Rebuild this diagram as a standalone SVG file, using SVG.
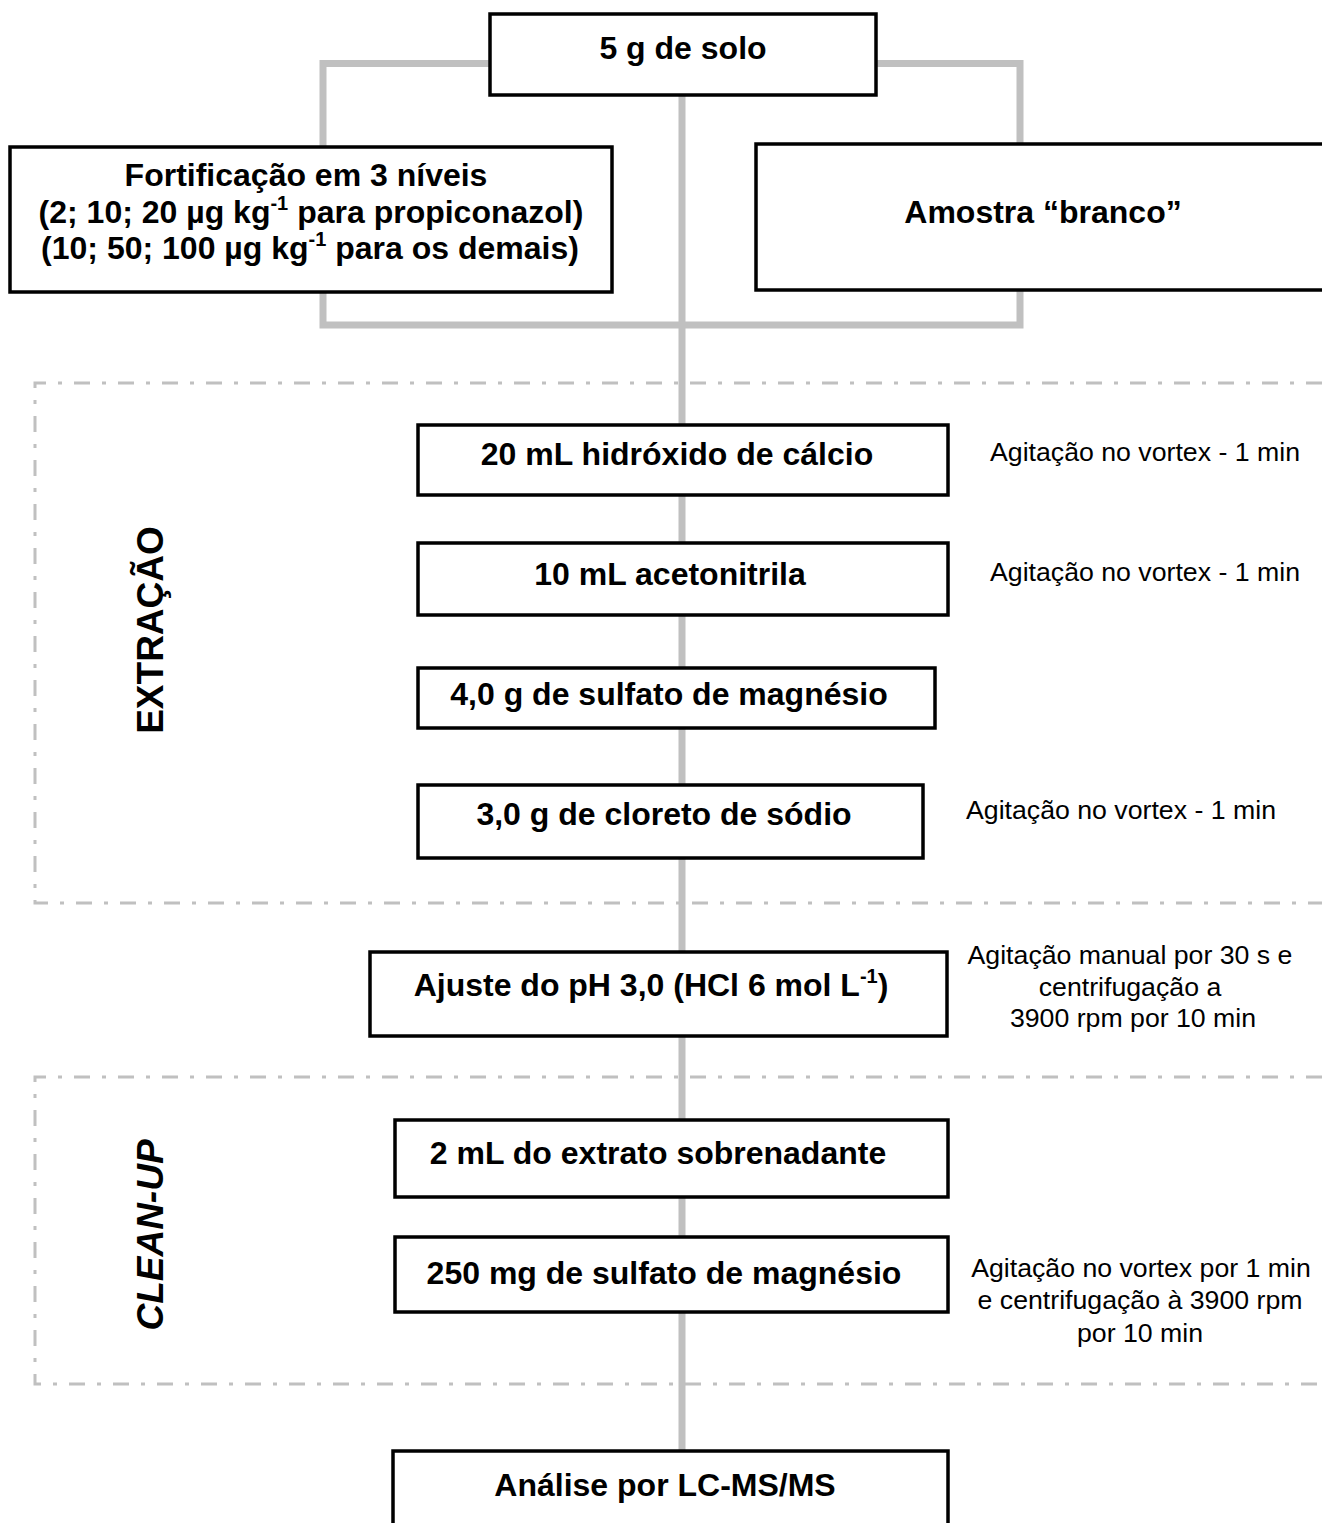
<svg xmlns="http://www.w3.org/2000/svg" width="1322" height="1523" viewBox="0 0 1322 1523">
<style>
.box{fill:#fff;stroke:#000;stroke-width:3.5}
.conn{fill:none;stroke:#c0c0c0;stroke-width:7}
.dash{fill:none;stroke:#c0c0c0;stroke-width:3;stroke-dasharray:16 12 4 12}
.b{font-family:"Liberation Sans",Arial,sans-serif;font-weight:bold;font-size:32px;fill:#000;text-anchor:middle}
.r{font-family:"Liberation Sans",Arial,sans-serif;font-size:26.7px;fill:#000;text-anchor:middle}
.lab{font-family:"Liberation Sans",Arial,sans-serif;font-weight:bold;font-size:37px;fill:#000;text-anchor:middle}
</style>
<rect width="1322" height="1523" fill="#fff"/>
<g id="regions">
<path class="dash" d="M1322,383 H35 V903 H1322"/>
<path class="dash" d="M1322,1077 H35 V1384 H1322"/>
<text class="lab" transform="translate(163,630) rotate(-90)">EXTRAÇÃO</text>
<text class="lab" font-style="italic" font-size="38.5px" transform="translate(163,1235) rotate(-90)">CLEAN-UP</text>
</g>
<g id="connectors">
<path class="conn" d="M323,150 V63.5 H1020 V150"/>
<path class="conn" d="M323,288 V325 H1020 V288"/>
<path class="conn" d="M682,90 V1455"/>
</g>
<g id="n-solo">
<rect class="box" x="490" y="14" width="386" height="81"/>
<text class="b" x="683" y="59">5 g de solo</text>
</g>
<g id="n-fortificacao">
<rect class="box" x="10" y="147" width="602" height="145"/>
<text class="b" x="306" y="186">Fortificação em 3 níveis</text>
<text class="b" x="311" y="223">(2; 10; 20 µg kg<tspan dy="-13" font-size="20">-1</tspan><tspan dy="13"> para propiconazol)</tspan></text>
<text class="b" x="310" y="259">(10; 50; 100 µg kg<tspan dy="-13" font-size="20">-1</tspan><tspan dy="13"> para os demais)</tspan></text>
</g>
<g id="n-branco">
<rect class="box" x="756" y="144" width="580" height="146"/>
<text class="b" x="1043" y="223">Amostra “branco”</text>
</g>
<g id="n-hidroxido">
<rect class="box" x="418" y="425" width="530" height="70"/>
<text class="b" x="677" y="465">20 mL hidróxido de cálcio</text>
<text class="r" x="1145" y="461">Agitação no vortex - 1 min</text>
</g>
<g id="n-acetonitrila">
<rect class="box" x="418" y="543" width="530" height="72"/>
<text class="b" x="670" y="585">10 mL acetonitrila</text>
<text class="r" x="1145" y="581">Agitação no vortex - 1 min</text>
</g>
<g id="n-sulfato">
<rect class="box" x="418" y="668" width="517" height="60"/>
<text class="b" x="669" y="705">4,0 g de sulfato de magnésio</text>
</g>
<g id="n-cloreto">
<rect class="box" x="418" y="785" width="505" height="73"/>
<text class="b" x="664" y="825">3,0 g de cloreto de sódio</text>
<text class="r" x="1121" y="819">Agitação no vortex - 1 min</text>
</g>
<g id="n-ph">
<rect class="box" x="370" y="952" width="577" height="84"/>
<text class="b" x="651" y="996">Ajuste do pH 3,0 (HCl 6 mol L<tspan dy="-13" font-size="20">-1</tspan><tspan dy="13">)</tspan></text>
<text class="r" x="1130" y="964">Agitação manual por 30 s e</text>
<text class="r" x="1130" y="996">centrifugação a</text>
<text class="r" x="1133" y="1027">3900 rpm por 10 min</text>
</g>
<g id="n-extrato">
<rect class="box" x="395" y="1120" width="553" height="77"/>
<text class="b" x="658" y="1164">2 mL do extrato sobrenadante</text>
</g>
<g id="n-sulfato250">
<rect class="box" x="395" y="1237" width="553" height="75"/>
<text class="b" x="664" y="1284">250 mg de sulfato de magnésio</text>
<text class="r" x="1141" y="1277">Agitação no vortex por 1 min</text>
<text class="r" x="1140" y="1309">e centrifugação à 3900 rpm</text>
<text class="r" x="1140" y="1342">por 10 min</text>
</g>
<g id="n-analise">
<rect class="box" x="393" y="1451" width="555" height="90"/>
<text class="b" x="665" y="1496">Análise por LC-MS/MS</text>
</g>
</svg>
